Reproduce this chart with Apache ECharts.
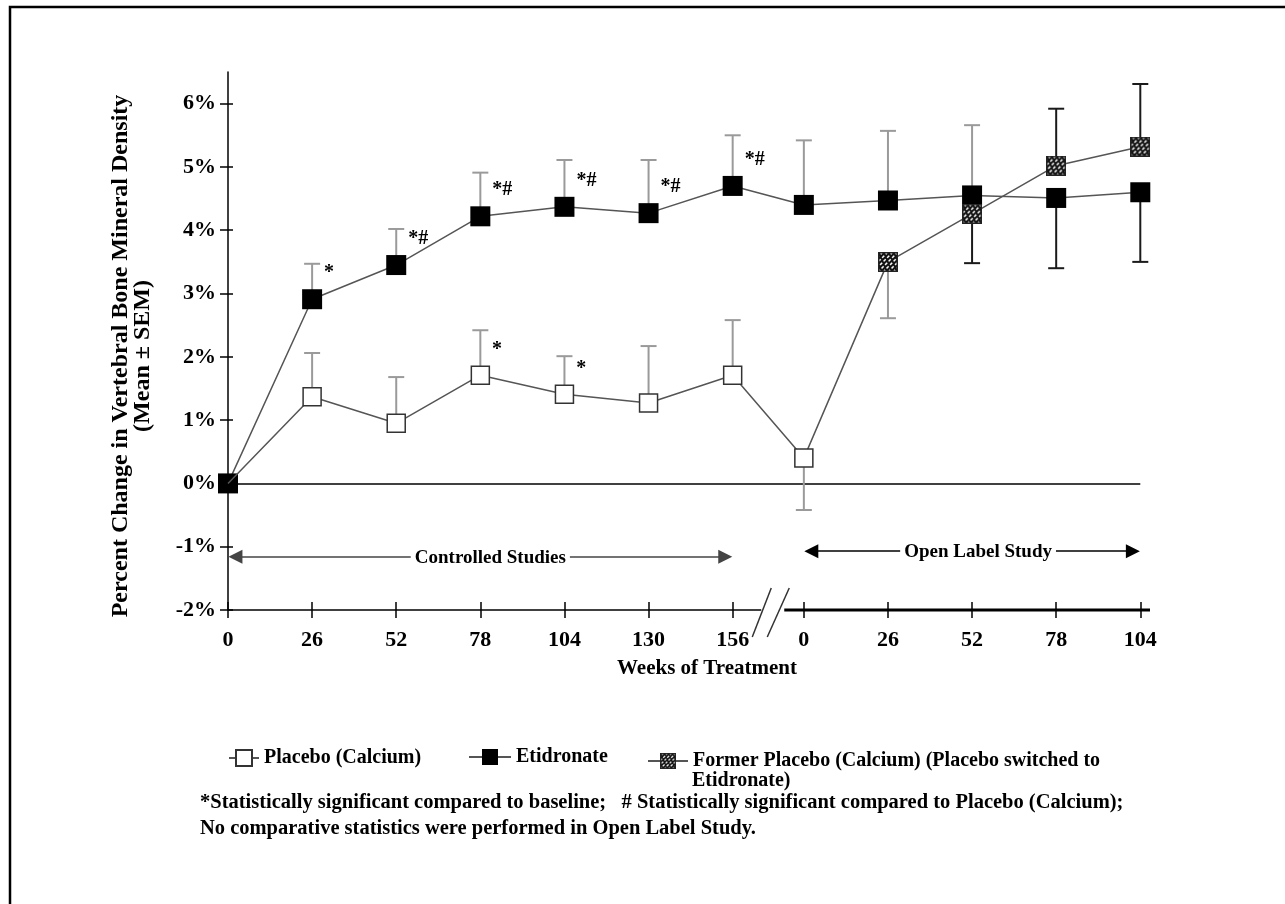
<!DOCTYPE html>
<html>
<head>
<meta charset="utf-8">
<title>Vertebral BMD - Etidronate</title>
<script src="https://cdn.jsdelivr.net/npm/echarts@6/dist/echarts.min.js"></script>
<style>
  html, body { margin: 0; padding: 0; background: #fff; }
  #chart { width: 1285px; height: 904px; }
</style>
</head>
<body>
<div id="chart"></div>
<script>
// weeks in each phase of the study
var ctrlWeeks = [0, 26, 52, 78, 104, 130, 156];
var openWeeks = [0, 26, 52, 78, 104];
var OPEN_SHIFT = 178; // axis position of open label week 0, after the break

// mean % change, and where the SEM bar of each point ends (null = no bar)
var placeboCtrl = [0, 1.37, 0.95, 1.71, 1.41, 1.27, 1.71];
var placeboCtrlBar = [null, 2.06, 1.68, 2.42, 2.01, 2.17, 2.58];
var placeboOpen = [0.40];
var placeboOpenBar = [-0.42];

var etidCtrl = [0, 2.91, 3.45, 4.22, 4.37, 4.27, 4.70];
var etidCtrlBar = [null, 3.47, 4.02, 4.91, 5.11, 5.11, 5.50];
var etidOpen = [4.40, 4.47, 4.55, 4.51, 4.60];
var etidOpenBar = [5.42, 5.57, 5.66, 3.40, 3.50];

var formerOpen = [0.40, 3.50, 4.26, 5.02, 5.32];
var formerOpenBar = [null, 2.61, 3.48, 5.92, 6.31];

// significance marks (controlled phase)
var etidMarks = ['', '*', '*#', '*#', '*#', '*#', '*#'];
var placeboMarks = ['', '', '', '*', '*', '', ''];

var yTicks = [-2, -1, 0, 1, 2, 3, 4, 5, 6];

var NAMES = ['Placebo (Calcium)', 'Etidronate', 'Former Placebo (Calcium) (Placebo switched to Etidronate)'];
var FONT = "'Liberation Serif', 'Times New Roman', serif";
var GREY = '#9a9a9a', DARK = '#1a1a1a';

function openX(w) { return w + OPEN_SHIFT; }
var xTicks = ctrlWeeks.concat(openWeeks.map(openX));

function pts(weeks, vals, toX) {
  return vals.map(function (v, i) { return [toX ? toX(weeks[i]) : weeks[i], v]; });
}
var placeboData = pts(ctrlWeeks, placeboCtrl).concat(pts(openWeeks, placeboOpen, openX));
placeboData[0] = { value: placeboData[0], symbol: 'none' }; // hidden under the etidronate square
var etidData = pts(ctrlWeeks, etidCtrl).concat(pts(openWeeks, etidOpen, openX));
var formerData = pts(openWeeks, formerOpen, openX);
formerData[0] = { value: formerData[0], symbol: 'none' }; // starts from the placebo point

// error bars: [x, mean, end]
var errBars = [];
function addBars(data, ends, colorOf) {
  ends.forEach(function (e, i) {
    if (e === null) return;
    var p = data[i].value || data[i];
    errBars.push({ value: [p[0], p[1], e], itemStyle: { color: colorOf(i, p[1], e) } });
  });
}
addBars(placeboData, placeboCtrlBar.concat(placeboOpenBar), function () { return GREY; });
addBars(etidData, etidCtrlBar.concat(etidOpenBar), function (i, m, e) { return e > m ? GREY : DARK; });
addBars(formerData, formerOpenBar, function (i) { return i === 1 ? GREY : DARK; });

// hatched square symbol for the former placebo group (drawn at 2x)
function hatchSquare() {
  var s = 40;
  var c = document.createElement('canvas');
  c.width = c.height = s;
  var g = c.getContext('2d');
  g.fillStyle = '#111';
  g.fillRect(0, 0, s, s);
  g.strokeStyle = '#fff';
  g.lineWidth = 3;
  g.setLineDash([6, 4]);
  for (var k = -s; k < 2 * s; k += 10) {
    g.beginPath(); g.moveTo(k, s); g.lineTo(k + s, 0); g.stroke();
  }
  g.setLineDash([]);
  g.strokeStyle = '#222';
  g.lineWidth = 3;
  g.strokeRect(1.5, 1.5, s - 3, s - 3);
  return 'image://' + c.toDataURL();
}

function t(size, extra) {
  var o = { color: '#000', fontFamily: FONT, fontWeight: 'bold', fontSize: size };
  for (var k in extra) o[k] = extra[k];
  return o;
}

var chart = echarts.init(document.getElementById('chart'));
chart.setOption({
  animation: false,
  grid: { left: 228, right: 135, top: 72, bottom: 294 },
  xAxis: [{
    type: 'value', min: 0, max: 285, position: 'bottom',
    axisLine: { show: false, onZero: false },
    axisTick: { customValues: xTicks, length: 8, lineStyle: { color: '#000', width: 1.5 } },
    axisLabel: t(22, {
      customValues: xTicks, margin: 19,
      formatter: function (v) { return v > 156 ? v - OPEN_SHIFT : v; }
    }),
    splitLine: { show: false },
    name: 'Weeks of Treatment', nameLocation: 'middle', nameGap: 48,
    nameTextStyle: t(21, { padding: [0, 0, 0, 36] })
  }, {
    type: 'value', min: 0, max: 285, position: 'bottom',
    axisLine: { show: false, onZero: false },
    axisTick: { customValues: xTicks, inside: true, length: 8, lineStyle: { color: '#000', width: 1.5 } },
    axisLabel: { show: false }, splitLine: { show: false }
  }],
  yAxis: [{
    type: 'value', min: -2, max: 6.5,
    axisLine: { show: true, lineStyle: { color: '#000', width: 1.5 } },
    axisTick: { customValues: yTicks, length: 8, lineStyle: { color: '#000', width: 1.5 } },
    axisLabel: t(22, { customValues: yTicks, margin: 12, formatter: '{value}%' }),
    splitLine: { show: false },
    name: 'Percent Change in Vertebral Bone Mineral Density\n(Mean \u00b1 SEM)',
    nameLocation: 'middle', nameRotate: 90, nameGap: 74,
    nameTextStyle: t(24, { lineHeight: 22, padding: [0, 30, 0, 0] })
  }, {
    type: 'value', min: -2, max: 6.5, position: 'left',
    axisLine: { show: false },
    axisTick: { customValues: yTicks, inside: true, length: 5, lineStyle: { color: '#000', width: 1.5 } },
    axisLabel: { show: false }, splitLine: { show: false }
  }],
  legend: [
    { data: [NAMES[0]], left: 228, top: 748, padding: 0, itemWidth: 30, itemHeight: 20, selectedMode: false, textStyle: t(20) },
    { data: [NAMES[1]], left: 468, top: 747, padding: 0, itemWidth: 42, itemHeight: 20, selectedMode: false, textStyle: t(20) },
    {
      data: [NAMES[2]], left: 647, top: 751, padding: 0, itemWidth: 40, itemHeight: 20, selectedMode: false, textStyle: t(20),
      formatter: function () { return 'Former Placebo (Calcium) (Placebo switched to'; }
    }
  ],
  series: [{
    name: 'SEM', type: 'custom', z: 1,
    encode: { x: 0, y: [1, 2] },
    renderItem: function (params, api) {
      var x = api.value(0);
      var a = api.coord([x, api.value(1)]);
      var b = api.coord([x, api.value(2)]);
      var c = api.visual('color');
      return {
        type: 'group',
        children: [
          { type: 'line', shape: { x1: a[0], y1: a[1], x2: b[0], y2: b[1] }, style: { stroke: c, lineWidth: 2 } },
          { type: 'line', shape: { x1: b[0] - 8, y1: b[1], x2: b[0] + 8, y2: b[1] }, style: { stroke: c, lineWidth: 2 } }
        ]
      };
    },
    data: errBars
  }, {
    name: NAMES[1], type: 'line', z: 2,
    symbol: 'rect', symbolSize: 20,
    itemStyle: { color: '#000' },
    lineStyle: { color: '#555', width: 1.5 },
    label: t(20, {
      show: true, position: 'right', distance: 2, offset: [0, -26],
      formatter: function (p) { return etidMarks[p.dataIndex] || ''; }
    }),
    data: etidData,
    markLine: {
      silent: true, z: 1,
      symbol: ['triangle', 'triangle'], symbolSize: 14,
      lineStyle: { color: '#444', width: 1.5, type: 'solid' },
      label: t(19, { show: true, position: 'middle', backgroundColor: '#fff', padding: [0, 4] }),
      data: [
        [{ coord: [0, 0], symbol: 'none', lineStyle: { color: '#000', width: 1.5, type: 'solid' }, label: { show: false } },
         { coord: [openX(104), 0], symbol: 'none' }],
        [{ coord: [2.3, -1.16], label: { formatter: 'Controlled Studies', offset: [10, 16] } },
         { coord: [156 - 2.3, -1.16] }],
        [{ coord: [openX(0) + 2.3, -1.07], lineStyle: { color: '#000' }, label: { formatter: 'Open Label Study', offset: [6, 15] } },
         { coord: [openX(104) - 2.3, -1.07] }]
      ]
    }
  }, {
    name: NAMES[2], type: 'line', z: 3,
    symbol: hatchSquare(), symbolSize: 20,
    itemStyle: { color: '#111' },
    lineStyle: { color: '#555', width: 1.5 },
    data: formerData
  }, {
    name: NAMES[0], type: 'line', z: 4,
    symbol: 'rect', symbolSize: 18,
    itemStyle: { color: '#fff', borderColor: '#333', borderWidth: 1.5 },
    lineStyle: { color: '#555', width: 1.5 },
    label: t(20, {
      show: true, position: 'right', distance: 2, offset: [0, -25],
      formatter: function (p) { return placeboMarks[p.dataIndex] || ''; }
    }),
    data: placeboData
  }]
});

// bottom axis with the break between the two study phases
function px(x, y) { return chart.convertToPixel({ xAxisIndex: 0, yAxisIndex: 0 }, [x, y]); }
var a0 = px(0, -2), aEnd = px(285, -2);
var mid = (px(156, -2)[0] + px(OPEN_SHIFT, -2)[0]) / 2;
var yb = a0[1];
var gtxt = function (s) { return { text: s, font: 'bold 20.5px ' + FONT, fill: '#000' }; };

chart.setOption({
  graphic: [
    { type: 'polyline', shape: { points: [[10, 904], [10, 7], [1285, 7]] }, style: { stroke: '#000', lineWidth: 2.5, fill: null } },
    { type: 'line', shape: { x1: a0[0], y1: yb, x2: mid - 7, y2: yb }, style: { stroke: '#000', lineWidth: 1.5 } },
    { type: 'line', shape: { x1: mid + 16, y1: yb, x2: aEnd[0], y2: yb }, style: { stroke: '#000', lineWidth: 3 } },
    { type: 'line', shape: { x1: mid - 16, y1: yb + 27, x2: mid + 3, y2: yb - 22 }, style: { stroke: '#333', lineWidth: 1.5 } },
    { type: 'line', shape: { x1: mid - 1, y1: yb + 27, x2: mid + 21, y2: yb - 22 }, style: { stroke: '#333', lineWidth: 1.5 } },
    { type: 'text', left: 692, top: 771, style: { text: 'Etidronate)', font: 'bold 20px ' + FONT, fill: '#000' } },
    { type: 'text', left: 200, top: 792, style: gtxt('*Statistically significant compared to baseline;   # Statistically significant compared to Placebo (Calcium);') },
    { type: 'text', left: 200, top: 818, style: gtxt('No comparative statistics were performed in Open Label Study.') }
  ]
});
window.addEventListener('resize', function () { chart.resize(); });
</script>
</body>
</html>
